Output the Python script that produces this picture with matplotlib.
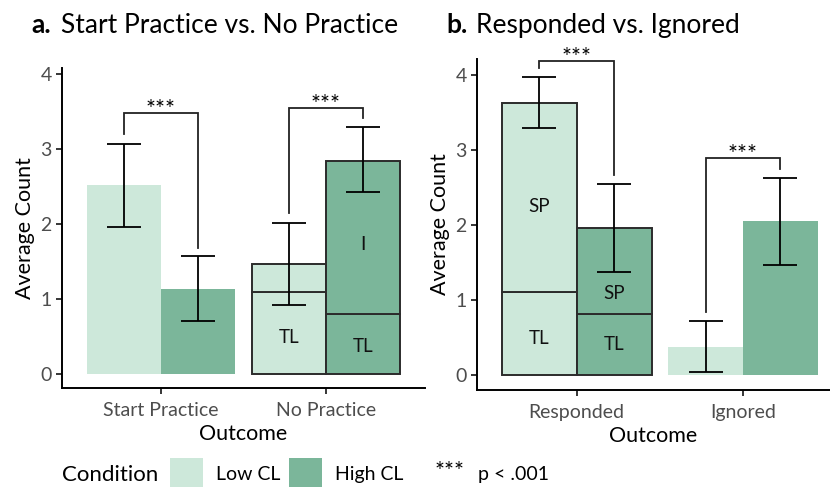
import matplotlib
matplotlib.use("Agg")
import matplotlib.pyplot as plt
from matplotlib.patches import Rectangle

plt.rcParams['font.family'] = ['Lato', 'DejaVu Sans']

# panel a: Start Practice vs. No Practice
cats_a = ["Start Practice", "No Practice"]
low_a = [2.52, 1.47]
high_a = [1.13, 2.84]
low_a_ci = [(1.96, 3.07), (0.92, 2.01)]
high_a_ci = [(0.71, 1.57), (2.42, 3.29)]
low_a_tl = [None, 1.09]
high_a_tl = [None, 0.80]

# panel b: Responded vs. Ignored
cats_b = ["Responded", "Ignored"]
low_b = [3.63, 0.37]
high_b = [1.96, 2.05]
low_b_ci = [(3.29, 3.97), (0.04, 0.72)]
high_b_ci = [(1.37, 2.55), (1.47, 2.63)]
low_b_tl = [1.10, None]
high_b_tl = [0.81, None]

# segment labels: (category, side, y, text)
labels_a = [(1, "low", 0.48, "TL"), (1, "high", 0.37, "TL"), (1, "high", 1.72, "I")]
labels_b = [(0, "low", 0.48, "TL"), (0, "low", 2.24, "SP"),
            (0, "high", 0.40, "TL"), (0, "high", 1.08, "SP")]

# brackets: (category, left end, right end, top)
brackets_a = [(0, 3.20, 1.68, 3.48), (1, 2.15, 3.41, 3.55)]
brackets_b = [(0, 4.09, 2.67, 4.19), (1, 0.84, 2.75, 2.89)]

LOW_COL = "#CDE8DA"
HIGH_COL = "#7BB69A"
EDGE = "#2b2b2b"
W = 0.45
W_PX, H_PX = 830, 487


def px(x, y):
    return x / W_PX, 1 - y / H_PX


def draw_panel(ax, cats, low, high, low_ci, high_ci, low_tl, high_tl, labels, brackets):
    for i in range(len(cats)):
        for side, vals, ci, tl, col in [("low", low, low_ci, low_tl, LOW_COL),
                                        ("high", high, high_ci, high_tl, HIGH_COL)]:
            x = i - W / 2 if side == "low" else i + W / 2
            if tl[i] is None:
                ax.bar(x, vals[i], width=W, color=col, linewidth=0, zorder=2)
            else:
                ax.bar(x, tl[i], width=W, color=col, edgecolor=EDGE, linewidth=1.4, zorder=2)
                ax.bar(x, vals[i] - tl[i], bottom=tl[i], width=W, color=col,
                       edgecolor=EDGE, linewidth=1.4, zorder=2)
            lo, hi = ci[i]
            ax.errorbar(x, vals[i], yerr=[[vals[i] - lo], [hi - vals[i]]], fmt="none",
                        ecolor="black", elinewidth=1.3, capsize=12, capthick=1.3, zorder=4)
    for i, side, y, t in labels:
        x = i - W / 2 if side == "low" else i + W / 2
        ax.text(x, y, t, ha="center", va="center", fontsize=13.5, color="#111111", zorder=5)
    for i, yl, yr, yt in brackets:
        xl, xr = i - W / 2, i + W / 2
        ax.plot([xl, xl, xr, xr], [yl, yt, yt, yr], color="#222222", lw=1.3,
                zorder=3, clip_on=False, solid_joinstyle="miter")
        ax.text(i, yt - 0.04, "***", ha="center", va="baseline", fontsize=17,
                clip_on=False, zorder=5)
    ax.set_xticks(range(len(cats)))
    ax.set_xticklabels(cats)
    ax.set_yticks([0, 1, 2, 3, 4])
    for s in ["top", "right"]:
        ax.spines[s].set_visible(False)
    for s in ["left", "bottom"]:
        ax.spines[s].set_linewidth(1.4)
    ax.tick_params(axis="both", length=4, width=1.1, labelsize=14, labelcolor="#4d4d4d")
    ax.tick_params(axis="x", pad=6)
    ax.set_xlabel("Outcome", fontsize=15.5, labelpad=4)
    ax.set_ylabel("Average Count", fontsize=15.5, labelpad=4)


fig = plt.figure(figsize=(8.3, 4.87), dpi=100)

l, b = px(62, 388)
r, t = px(425, 68)
ax1 = fig.add_axes([l, b, r - l, t - b])
draw_panel(ax1, cats_a, low_a, high_a, low_a_ci, high_a_ci, low_a_tl, high_a_tl,
           labels_a, brackets_a)
ax1.set_xlim(-0.6, 1.6)
ax1.set_ylim(-0.187, 4.08)

l, b = px(477, 390)
r, t = px(830, 59)
ax2 = fig.add_axes([l, b, r - l, t - b])
draw_panel(ax2, cats_b, low_b, high_b, low_b_ci, high_b_ci, low_b_tl, high_b_tl,
           labels_b, brackets_b)
ax2.set_xlim(-0.6, 1.524)
ax2.set_ylim(-0.2, 4.21)

# titles
fig.text(*px(31, 33), "a.", fontsize=19, fontweight="bold", va="baseline")
fig.text(*px(61, 33), "Start Practice vs. No Practice", fontsize=19, va="baseline")
fig.text(*px(446, 33), "b.", fontsize=19, fontweight="bold", va="baseline")
fig.text(*px(476, 33), "Responded vs. Ignored", fontsize=19, va="baseline")

# legend
fig.text(*px(62, 481), "Condition", fontsize=16, va="baseline")
for x0, col, name in [(170, LOW_COL, "Low CL"), (289, HIGH_COL, "High CL")]:
    x, y = px(x0, 487)
    fig.patches.append(Rectangle((x, y), 33 / W_PX, 29 / H_PX, transform=fig.transFigure,
                                 facecolor=col, edgecolor="none"))
    fig.text(*px(x0 + 46, 480), name, fontsize=14, va="baseline")
fig.text(*px(435, 478), "***", fontsize=17, va="baseline")
fig.text(*px(478, 480), "p < .001", fontsize=14, va="baseline")

fig.savefig("out.png", dpi=100)
